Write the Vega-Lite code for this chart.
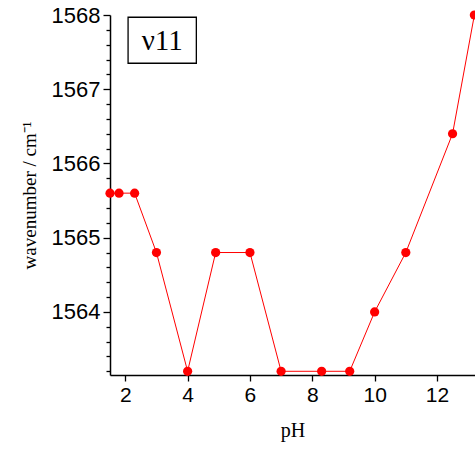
{
  "$schema": "https://vega.github.io/schema/vega-lite/v6.json",
  "width": 365,
  "height": 360,
  "autosize": "none",
  "padding": {"left": 110, "top": 15, "right": 0, "bottom": 75},
  "background": "white",
  "config": {"view": {"stroke": null}},
  "datasets": {
    "pts": [
      {"pH": 1.51, "wavenumber": 1565.6},
      {"pH": 1.8, "wavenumber": 1565.6},
      {"pH": 2.3, "wavenumber": 1565.6},
      {"pH": 3.0, "wavenumber": 1564.8},
      {"pH": 4.0, "wavenumber": 1563.2},
      {"pH": 4.9, "wavenumber": 1564.8},
      {"pH": 6.0, "wavenumber": 1564.8},
      {"pH": 7.0, "wavenumber": 1563.2},
      {"pH": 8.3, "wavenumber": 1563.2},
      {"pH": 9.2, "wavenumber": 1563.2},
      {"pH": 10.0, "wavenumber": 1564.0},
      {"pH": 11.0, "wavenumber": 1564.8},
      {"pH": 12.5, "wavenumber": 1566.4},
      {"pH": 13.2, "wavenumber": 1568.0}
    ],
    "box": [
      {"pH": 2.09, "pH2": 4.28, "wavenumber": 1567.35, "wavenumber2": 1567.97}
    ],
    "label": [
      {"pH": 3.185, "wavenumber": 1567.66, "text": "ν11"}
    ]
  },
  "encoding": {
    "x": {
      "field": "pH", "type": "quantitative",
      "scale": {"domain": [1.51, 13.22], "nice": false, "zero": false},
      "axis": {
        "title": "pH",
        "titleFont": "Liberation Serif", "titleFontSize": 20, "titleFontWeight": "normal", "titleColor": "black",
        "titlePadding": 15,
        "values": [2, 4, 6, 8, 10, 12],
        "labelFont": "Liberation Sans", "labelFontSize": 21, "labelColor": "black",
        "labelFlush": false, "labelPadding": 3,
        "grid": false, "domainColor": "black", "domainWidth": 1.5,
        "tickColor": "black", "tickSize": 6, "tickWidth": 1.3
      }
    },
    "y": {
      "field": "wavenumber", "type": "quantitative",
      "scale": {"domain": [1563.15, 1568], "nice": false, "zero": false},
      "axis": {
        "title": "wavenumber / cm⁻¹",
        "titleFont": "Liberation Serif", "titleFontSize": 19, "titleFontWeight": "normal", "titleColor": "black",
        "titlePadding": 12,
        "values": [1563.2, 1563.4, 1563.6, 1563.8, 1564, 1564.2, 1564.4, 1564.6, 1564.8, 1565, 1565.2, 1565.4, 1565.6, 1565.8, 1566, 1566.2, 1566.4, 1566.6, 1566.8, 1567, 1567.2, 1567.4, 1567.6, 1567.8, 1568],
        "labelExpr": "abs(datum.value - round(datum.value)) < 0.01 ? format(datum.value, 'd') : ''",
        "labelOverlap": false,
        "labelFlush": false,
        "labelBound": false,
        "labelFont": "Liberation Sans", "labelFontSize": 22, "labelColor": "black", "labelPadding": 3,
        "grid": false, "domainColor": "black", "domainWidth": 1.5,
        "tickColor": "black", "tickWidth": 1.3,
        "tickSize": {"condition": {"test": "abs(datum.value - round(datum.value)) < 0.01", "value": 7}, "value": 4}
      }
    }
  },
  "layer": [
    {
      "data": {"name": "pts"},
      "mark": {"type": "line", "color": "#ff0000", "strokeWidth": 1}
    },
    {
      "data": {"name": "pts"},
      "mark": {"type": "point", "filled": true, "color": "#ff0000", "opacity": 1, "size": 85, "shape": "circle"}
    },
    {
      "data": {"name": "box"},
      "mark": {"type": "rect", "fill": "white", "stroke": "black", "strokeWidth": 1.3},
      "encoding": {
        "x2": {"field": "pH2"},
        "y2": {"field": "wavenumber2"}
      }
    },
    {
      "data": {"name": "label"},
      "mark": {"type": "text", "font": "Liberation Serif", "fontSize": 29, "color": "black", "baseline": "middle", "align": "center", "dy": 1},
      "encoding": {
        "text": {"field": "text"}
      }
    }
  ]
}
